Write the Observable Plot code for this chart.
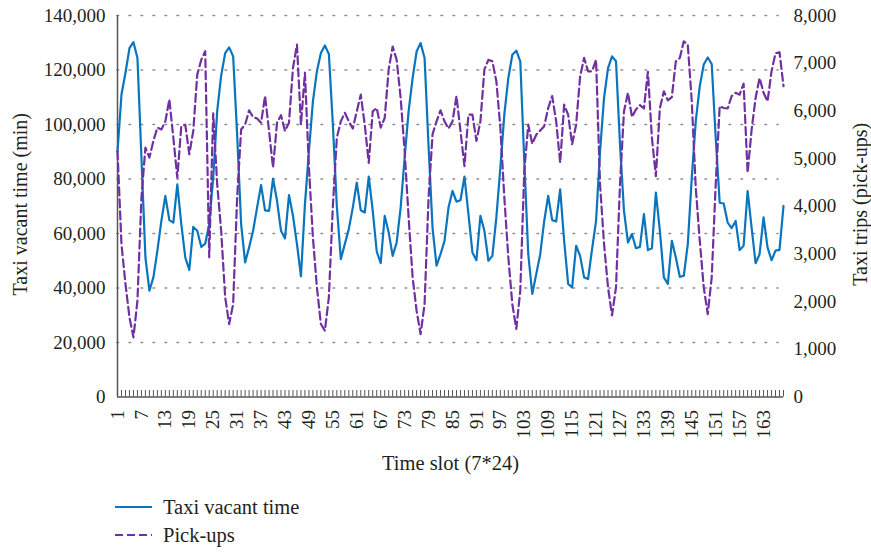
<!DOCTYPE html>
<html><head><meta charset="utf-8">
<script src="https://cdn.jsdelivr.net/npm/d3@7"></script>
<script src="https://cdn.jsdelivr.net/npm/@observablehq/plot@0.6"></script>
<style>
body{margin:0;background:#fff;font-family:"Liberation Serif",serif;color:#231f20}
#legend{margin-left:115px;font-size:20.5px;margin-top:8px}
.row{display:flex;align-items:center;height:28px}
.row svg{margin-right:11px}
</style></head><body>
<div id="chart"></div>
<div id="legend"></div>
<script>
const slots = d3.range(1, 169);
const vacantTime = [
90000,111000,119000,128000,130200,124400,88000,51200,39000,43900,
53700,64600,73800,64900,64000,78000,63400,51200,46600,62400,
61000,55100,56300,63400,80500,104900,118000,126200,128300,125000,
96300,63400,49400,54900,61000,69500,77800,68500,68300,80100,
72000,61000,58200,74100,66500,56100,44300,70700,90200,108500,
119500,126200,129000,125900,100000,70000,50600,56100,61600,69500,
78700,68500,67700,80900,68300,53400,49100,66500,60400,51800,
56700,69500,87800,104900,117000,126800,129900,124400,92000,62000,
48200,52400,57300,69500,75600,71700,72200,80900,67100,53000,
50200,66500,61000,50000,51800,65900,84100,103700,117000,125600,
127100,123200,86600,52400,37800,45100,52400,64600,73800,64900,
64400,76200,57300,41500,40200,55500,51800,43900,43300,54300,
64600,90200,109800,120700,125000,123200,92700,68300,56700,59800,
54600,55100,67100,53900,54600,75000,61000,43900,41500,57300,
51200,44100,44500,56100,80500,101200,114000,122000,124600,122200,
95100,71300,71000,64000,62000,64600,53900,55500,75600,62200,
49100,52400,65900,54900,50200,53700,54000,70100
];
const pickups = [
5150,3200,2370,1670,1250,2020,4180,5230,5020,5370,
5650,5610,5780,6240,5440,4600,5680,5710,5090,5580,
6760,7070,7250,2930,5950,4460,3480,2090,1530,1950,
4180,5610,5710,6010,5870,5840,5750,6310,5580,4810,
5750,5910,5580,5750,6900,7390,5710,6800,4810,3350,
2300,1530,1390,2090,4000,5440,5780,5960,5780,5630,
5990,6340,5710,4910,5990,6060,5650,5850,6870,7350,
7070,6270,5160,3760,2510,1810,1320,1950,4180,5510,
5780,6010,5780,5630,5780,6310,5580,4840,5920,5920,
5370,5780,6870,7070,7040,6620,5650,4180,2930,1950,
1430,2230,4740,5710,5310,5500,5590,5680,6060,6310,
5780,4910,6130,5920,5300,5710,6720,7110,6830,6830,
7070,4460,3210,2300,1710,2300,4460,5990,6380,5870,
6030,6120,6050,6820,5440,4630,6060,6410,6220,6290,
7040,7110,7460,7390,6200,4390,3280,2300,1740,2510,
4460,6100,6060,6050,6310,6380,6340,6570,4700,5600,
6270,6690,6380,6200,6830,7210,7230,6520
];
const xTickLabels = d3.range(1, 168, 6);
const leftTicks = [0, 20000, 40000, 60000, 80000, 100000, 120000, 140000];
const rightTicks = [0, 1000, 2000, 3000, 4000, 5000, 6000, 7000, 8000];
const seriesNames = ["Taxi vacant time", "Pick-ups"];
const xTitle = "Time slot (7*24)";
const yLeftTitle = "Taxi vacant time (min)";
const yRightTitle = "Taxi trips (pick-ups)";

const LEFT_MAX = 140000, RIGHT_MAX = 8000, K = LEFT_MAX / RIGHT_MAX;
const BLUE = "#0a75bf", PURPLE = "#7030a0", INK = "#231f20";
const data = slots.map((s, i) => ({slot: s, vacant: vacantTime[i], pick: pickups[i]}));
const fmt = d3.format(",");

const chart = Plot.plot({
  width: 871, height: 485,
  marginLeft: 117, marginRight: 88, marginTop: 15, marginBottom: 88.5,
  style: {fontFamily: "Liberation Serif, serif", fontSize: "19px", color: INK, background: "#fff"},
  x: {domain: [1, 168], axis: null},
  y: {domain: [0, LEFT_MAX], axis: null},
  marks: [
    Plot.gridY(leftTicks.slice(1), {stroke: "#8c8c8c", strokeOpacity: 1, strokeWidth: 1.6, strokeDasharray: "1.6,10.4", strokeLinecap: "round", insetRight: 5}),
    Plot.tickX(slots, {x: d => d, stroke: "#555", strokeWidth: 1, insetTop: 375}),
    Plot.ruleY([0], {stroke: "#555", strokeWidth: 1.5}),
    Plot.ruleX([1], {stroke: "#555", strokeWidth: 1.5}),
    Plot.axisY(leftTicks, {anchor: "left", tickSize: 0, tickPadding: 12, tickFormat: fmt, fontSize: 19, label: null}),
    Plot.axisY(rightTicks.map(v => v * K), {anchor: "right", tickSize: 0, tickPadding: 10, tickFormat: d => fmt(Math.round(d / K)), fontSize: 19, label: null}),
    Plot.axisX(xTickLabels, {anchor: "bottom", tickSize: 0, tickPadding: 13, tickRotate: -90, fontSize: 19, label: null}),
    Plot.text([xTitle], {frameAnchor: "bottom", dy: 73, fontSize: 20.5, fill: INK}),
    Plot.text([yLeftTitle], {frameAnchor: "left", textAnchor: "middle", rotate: -90, dx: -97, dy: -2, fontSize: 20, fill: INK}),
    Plot.text([yRightTitle], {frameAnchor: "right", textAnchor: "middle", rotate: -90, dx: 77, dy: -2, fontSize: 20, fill: INK}),
    Plot.line(data, {x: "slot", y: "vacant", stroke: BLUE, strokeWidth: 2.2}),
    Plot.line(data, {x: "slot", y: d => d.pick * K, stroke: PURPLE, strokeWidth: 2.2, strokeDasharray: "8,4"})
  ]
});
document.getElementById("chart").appendChild(chart);

const legend = document.getElementById("legend");
[[seriesNames[0], BLUE, null], [seriesNames[1], PURPLE, "8,4"]].forEach(([name, col, dash]) => {
  const row = document.createElement("div");
  row.className = "row";
  row.innerHTML = `<svg width="37" height="6"><line x1="0" y1="3" x2="37" y2="3" stroke="${col}" stroke-width="2.2" ${dash ? `stroke-dasharray="${dash}"` : ""}/></svg><span>${name}</span>`;
  legend.appendChild(row);
});
</script>
</body></html>
